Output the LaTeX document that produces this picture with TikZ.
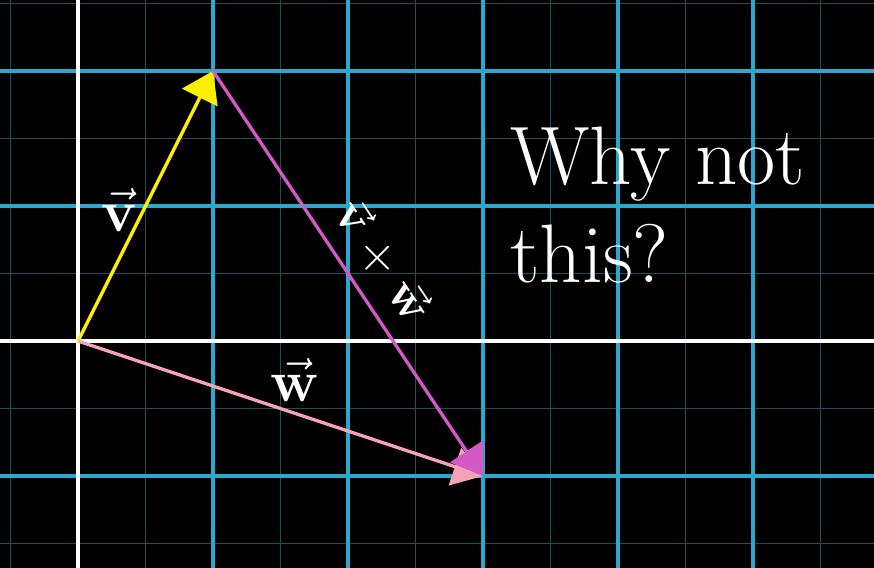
\documentclass[tikz,border=0pt]{standalone}
\usetikzlibrary{arrows.meta}
\definecolor{gridBlue}{HTML}{2CA8CC}
\definecolor{gridFaint}{HTML}{1E4F5C}
\definecolor{vecYellow}{HTML}{FFF000}
\definecolor{vecPink}{HTML}{F4A2B6}
\definecolor{vecMagenta}{HTML}{D25AC6}

\begin{document}
\begin{tikzpicture}[x=2cm, y=2cm,
    vecarrow/.style={line width=1.4pt, -{Triangle[length=12.5pt, width=16.5pt]}},
    veclabel/.style={text=white, inner sep=0pt, font=\fontsize{24}{28}\selectfont},
    bigtext/.style={text=white, inner sep=0pt, anchor=base west, font=\fontsize{35}{42}\selectfont}]
        % fondo
        \fill[black] (-0.578,-1.681) rectangle (5.896,2.526);
        \useasboundingbox (-0.578,-1.681) rectangle (5.896,2.526);
        % rejilla fina
        \foreach \x in {-0.5,0.5,...,5.5}
          \draw[gridFaint, line width=0.8pt] (\x,-1.681) -- (\x,2.526);
        \foreach \y in {-1.5,-0.5,...,2.5}
          \draw[gridFaint, line width=0.8pt] (-0.578,\y) -- (5.896,\y);
        % rejilla principal
        \foreach \x in {1,...,5}
          \draw[gridBlue, line width=1.6pt] (\x,-1.681) -- (\x,2.526);
        \foreach \y in {-1,1,2}
          \draw[gridBlue, line width=1.6pt] (-0.578,\y) -- (5.896,\y);
        % ejes
        \draw[white, line width=1.6pt] (-0.578,0) -- (5.896,0);
        \draw[white, line width=1.6pt] (0,-1.681) -- (0,2.526);
        % vectores
        \coordinate (O) at (0,0);
        \coordinate (V) at (1,2);
        \coordinate (W) at (3,-1);
        \draw[vecarrow, vecYellow] (O) -- (V);
        \draw[vecarrow, vecPink] (O) -- (W);
        \draw[vecarrow, vecMagenta] (V) -- (W);
        % etiquetas
        \node[veclabel] (vlabel) at (0.31,0.97) {$\vec{\mathbf{v}}$};
        \node[veclabel] (wlabel) at (1.61,-0.29) {$\vec{\mathbf{w}}$};
        \node[veclabel, rotate=-56.3, font=\fontsize{22}{26}\selectfont] (crosslabel)
          at (2.24,0.58) {$\vec{\mathbf{v}}\,\rotatebox[origin=c]{56.3}{$\times$}\,\vec{\mathbf{w}}$};
        \node[bigtext] (why) at (3.2,1.156) {Why not};
        \node[bigtext] (this) at (3.2,0.437) {this?};
      \end{tikzpicture}
\end{document}
